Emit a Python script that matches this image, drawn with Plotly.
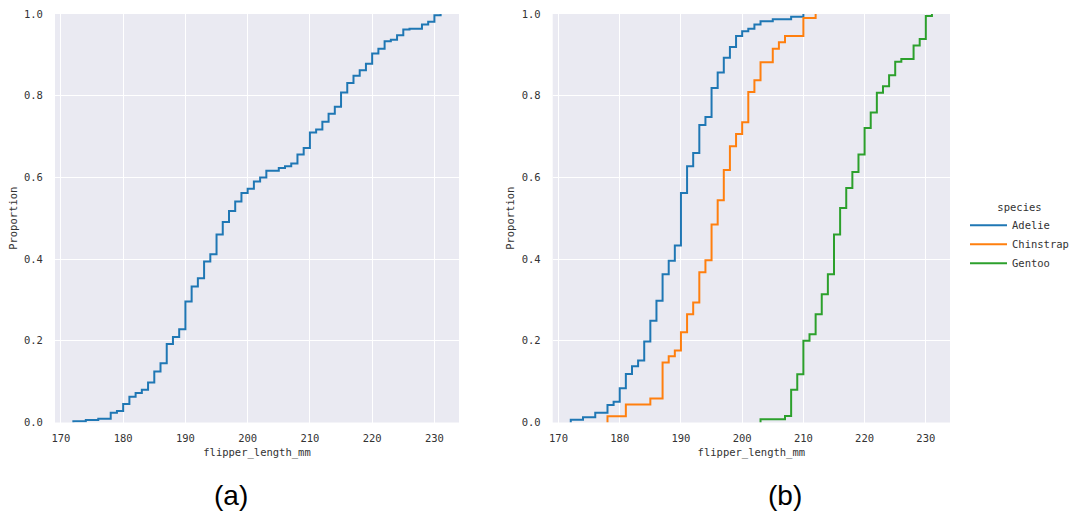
import plotly.graph_objects as go

# ---- data ----
all_x = [172, 174, 176, 178, 179, 180, 181, 182, 183, 184, 185, 186, 187, 188, 189,
         190, 191, 192, 193, 194, 195, 196, 197, 198, 199, 200, 201, 202, 203, 205,
         206, 207, 208, 209, 210, 211, 212, 213, 214, 215, 216, 217, 218, 219, 220,
         221, 222, 223, 224, 225, 226, 228, 229, 230, 231]
all_p = [0.003, 0.006, 0.009, 0.024, 0.028, 0.045, 0.063, 0.072, 0.080, 0.098, 0.125,
         0.145, 0.192, 0.209, 0.228, 0.296, 0.333, 0.353, 0.394, 0.412, 0.460, 0.491,
         0.518, 0.541, 0.562, 0.572, 0.590, 0.600, 0.616, 0.623, 0.627, 0.634, 0.656,
         0.672, 0.710, 0.717, 0.736, 0.756, 0.773, 0.808, 0.831, 0.849, 0.862, 0.878,
         0.903, 0.915, 0.933, 0.937, 0.948, 0.962, 0.964, 0.974, 0.981, 0.997, 1.0]

adelie_x = [172, 174, 176, 178, 179, 180, 181, 182, 183, 184, 185, 186, 187, 188, 189,
            190, 191, 192, 193, 194, 195, 196, 197, 198, 199, 200, 201, 202, 203, 205,
            208, 210]
adelie_p = [0.007, 0.013, 0.024, 0.043, 0.051, 0.084, 0.119, 0.138, 0.152, 0.198, 0.249,
            0.298, 0.363, 0.396, 0.433, 0.562, 0.627, 0.660, 0.728, 0.748, 0.819, 0.857,
            0.893, 0.919, 0.946, 0.958, 0.964, 0.974, 0.982, 0.987, 0.993, 1.0]

chinstrap_x = [178, 181, 185, 187, 188, 189, 190, 191, 192, 193, 194, 195, 196, 197, 198,
               199, 200, 201, 202, 203, 205, 206, 207, 210, 212]
chinstrap_p = [0.015, 0.044, 0.059, 0.147, 0.162, 0.176, 0.221, 0.265, 0.294, 0.368, 0.397,
               0.485, 0.544, 0.618, 0.676, 0.706, 0.735, 0.809, 0.838, 0.882, 0.915, 0.931,
               0.946, 0.990, 1.0]

gentoo_x = [203, 207, 208, 209, 210, 211, 212, 213, 214, 215, 216, 217, 218, 219, 220,
            221, 222, 223, 224, 225, 226, 228, 229, 230, 231]
gentoo_p = [0.008, 0.016, 0.080, 0.118, 0.200, 0.216, 0.265, 0.314, 0.363, 0.460, 0.525,
            0.574, 0.613, 0.656, 0.721, 0.759, 0.807, 0.823, 0.850, 0.883, 0.890, 0.923,
            0.939, 0.995, 1.0]

species = ["Adelie", "Chinstrap", "Gentoo"]
colors = ["#1f77b4", "#ff7f0e", "#2ca02c"]
x_ticks = [170, 180, 190, 200, 210, 220, 230]
y_ticks = [0.0, 0.2, 0.4, 0.6, 0.8, 1.0]
captions = ["(a)", "(b)"]

W, H = 1080, 531
MONO = "DejaVu Sans Mono"
TXT = "#333333"


def ecdf_xy(xs, ps):
    return [xs[0]] + list(xs), [0.0] + list(ps)


fig = go.Figure()

x, y = ecdf_xy(all_x, all_p)
fig.add_trace(go.Scatter(x=x, y=y, mode="lines", line=dict(color=colors[0], width=2, shape="hv"),
                         showlegend=False, xaxis="x", yaxis="y"))

for name, xs, ps, c in zip(species, [adelie_x, chinstrap_x, gentoo_x],
                           [adelie_p, chinstrap_p, gentoo_p], colors):
    x, y = ecdf_xy(xs, ps)
    fig.add_trace(go.Scatter(x=x, y=y, mode="lines", name=name,
                             line=dict(color=c, width=2, shape="hv"),
                             xaxis="x2", yaxis="y2"))

ydom = [1 - 422.5 / H, 1 - 14 / H]
ax_common = dict(showgrid=True, gridcolor="white", gridwidth=1.3, zeroline=False,
                 showline=False, ticks="outside", tickcolor="rgba(0,0,0,0)",
                 tickfont=dict(family=MONO, size=10.5, color=TXT), automargin=False)

fig.update_layout(
    width=W, height=H,
    margin=dict(l=0, r=0, t=0, b=0),
    paper_bgcolor="white", plot_bgcolor="#EAEAF2",
    xaxis=dict(domain=[55 / W, 459 / W], range=[169.05, 233.95], tickvals=x_ticks,
               ticklen=6, anchor="y",
               title=dict(text="flipper_length_mm", standoff=5,
                          font=dict(family=MONO, size=10.5, color=TXT)), **ax_common),
    yaxis=dict(domain=ydom, range=[0, 1], tickvals=y_ticks, tickformat=".1f",
               ticklen=9, anchor="x",
               title=dict(text="Proportion", standoff=4,
                          font=dict(family=MONO, size=10.5, color=TXT)), **ax_common),
    xaxis2=dict(domain=[552.7 / W, 950 / W], range=[169.05, 233.95], tickvals=x_ticks,
                ticklen=6, anchor="y2",
                title=dict(text="flipper_length_mm", standoff=5,
                           font=dict(family=MONO, size=10.5, color=TXT)), **ax_common),
    yaxis2=dict(domain=ydom, range=[0, 1], tickvals=y_ticks, tickformat=".1f",
                ticklen=9, anchor="x2",
                title=dict(text="Proportion", standoff=4,
                           font=dict(family=MONO, size=10.5, color=TXT)), **ax_common),
    legend=dict(x=965 / W, y=1 - 197 / H, xanchor="left", yanchor="top",
                bgcolor="rgba(0,0,0,0)",
                title=dict(text="species", side="top center",
                           font=dict(family=MONO, size=10.5, color=TXT)),
                font=dict(family=MONO, size=10.5, color=TXT),
                tracegroupgap=0, itemwidth=37),
)

for txt, cx in zip(captions, [231, 785]):
    fig.add_annotation(text=txt, x=cx / W, y=1 - 495 / H, xref="paper", yref="paper",
                       showarrow=False, xanchor="center", yanchor="middle",
                       font=dict(family="Liberation Sans", size=28, color="black"))

fig.write_html("out.html")
